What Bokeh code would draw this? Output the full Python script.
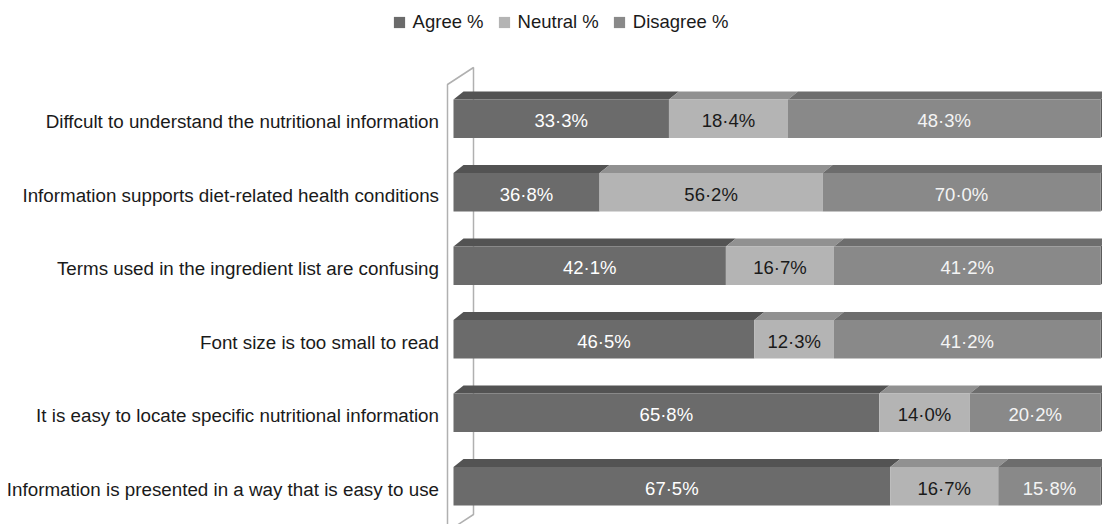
from bokeh.plotting import figure
from bokeh.models import Range1d, Legend, LegendItem, ColumnDataSource
from bokeh.core.properties import value
from bokeh.embed import file_html
from bokeh.resources import INLINE

categories = [
    "Diffcult to understand the nutritional information",
    "Information supports diet-related health conditions",
    "Terms used in the ingredient list are confusing",
    "Font size is too small to read",
    "It is easy to locate specific nutritional information",
    "Information is presented in a way that is easy to use",
]
agree = [33.3, 36.8, 42.1, 46.5, 65.8, 67.5]
neutral = [18.4, 56.2, 16.7, 12.3, 14.0, 16.7]
disagree = [48.3, 70.0, 41.2, 41.2, 20.2, 15.8]
series_names = ["Agree %", "Neutral %", "Disagree %"]

FONT = "Liberation Sans"
FS = "18.5px"
FS_CAT = "18.8px"
front_colors = ["#6b6b6b", "#b4b4b4", "#898989"]
top_colors = ["#535353", "#919191", "#6d6d6d"]
text_colors = ["#ffffff", "#1a1a1a", "#f4f4f4"]

W, HGT = 1102, 524
X0, PX_X = 453, 6.47      # page x of 0 %, pixels per percent
Y0, PX_Y = 118.3, 73.5    # page y of first row centre, pixels per row
H = 38.5 / PX_Y
DX = 10 / PX_X
DY = 8 / PX_Y


def dx(px):
    return (px - X0) / PX_X


def dy(py):
    return (py - Y0) / PX_Y


p = figure(width=W, height=HGT, output_backend="svg", toolbar_location=None,
           x_range=Range1d(dx(0), dx(W)), y_range=Range1d(dy(HGT), dy(0)),
           x_axis_location=None, y_axis_location=None,
           min_border_left=0, min_border_right=0, min_border_top=0, min_border_bottom=0)
p.xgrid.visible = False
p.ygrid.visible = False
p.outline_line_color = None
p.background_fill_color = "white"
p.border_fill_color = "white"

# left wall
p.patch([dx(447), dx(473), dx(473), dx(447)], [dy(84), dy(67), dy(514), dy(531)],
        fill_color="white", line_color="#b0b0b0", line_width=1.5)

rows = list(range(len(categories)))
vals = [agree, neutral, disagree]
totals = [a + n + d for a, n, d in zip(agree, neutral, disagree)]

# category labels
p.text(x=[dx(438.5)] * len(rows), y=rows, text=categories, text_align="right",
       text_baseline="middle", y_offset=3, text_color="#1a1a1a",
       text_font=value(FONT), text_font_size=FS_CAT)

items = []
start = [0.0] * len(rows)
for k, v in enumerate(vals):
    left = start[:]
    right = [l + x / t * 100 for l, x, t in zip(left, v, totals)]
    start = right
    yt = [r - H / 2 for r in rows]
    yb = [r + H / 2 for r in rows]
    # top face
    txs = [[l, r, r + DX, l + DX] for l, r in zip(left, right)]
    tys = [[a, a, a - DY, a - DY] for a in yt]
    p.patches(txs, tys, fill_color=top_colors[k], line_color=None)
    if k == len(vals) - 1:
        sxs = [[r, r + DX, r + DX, r] for r in right]
        sys_ = [[a, a - DY, b - DY, b] for a, b in zip(yt, yb)]
        p.patches(sxs, sys_, fill_color="#5c5c5c", line_color=None)
    src = ColumnDataSource(dict(left=left, right=right, top=yt, bottom=yb, y=rows,
                                xc=[(l + r) / 2 for l, r in zip(left, right)],
                                lab=[f"{x:.1f}".replace(".", "·") + "%" for x in v]))
    r_ = p.quad(left="left", right="right", top="top", bottom="bottom", source=src,
                fill_color=front_colors[k], line_color=None)
    p.text(x="xc", y="y", text="lab", source=src, text_align="center",
           text_baseline="middle", y_offset=2, text_color=text_colors[k],
           text_font=value(FONT), text_font_size=FS)
    items.append(LegendItem(label=series_names[k], renderers=[r_]))

legend = Legend(items=items, orientation="horizontal", location=(391.6, HGT - 32.5),
                glyph_width=14, glyph_height=14, label_standoff=7, spacing=13,
                padding=0, margin=0, border_line_color=None, background_fill_alpha=0,
                label_text_font=FONT, label_text_font_size=FS, label_text_color="#1a1a1a",
                label_height=14)
p.add_layout(legend, "center")

open("out.html", "w").write(file_html(p, INLINE))
